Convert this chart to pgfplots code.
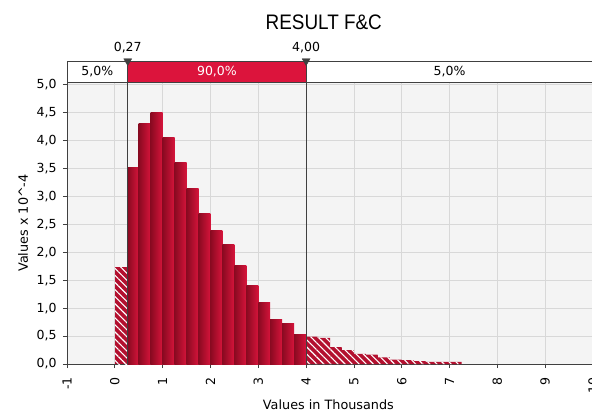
\documentclass[border=0pt]{standalone}
\usepackage{pgfplots}
\pgfplotsset{compat=1.18}
\usepackage{fontspec}
\setmainfont{DejaVu Sans}
\newfontfamily\titlefont{Liberation Sans}
\usetikzlibrary{patterns.meta}
\definecolor{bandred}{HTML}{DC143C}
\definecolor{barL}{HTML}{8A0A21}
\definecolor{barR}{HTML}{D6143B}
\definecolor{hatchred}{HTML}{B3102F}
\definecolor{bgc}{HTML}{F4F4F4}
\definecolor{gridc}{HTML}{D8D8D8}
\definecolor{axc}{HTML}{404040}
\pgfplotsset{body/.style={ybar interval, draw=none, left color=barL, right color=barR, forget plot}}
\begin{document}
\begin{tikzpicture}
\begin{axis}[
  scale only axis,
  width=526pt, height=282pt,
  xmin=-1, xmax=10, ymin=0, ymax=5.05,
  axis x line*=bottom, axis y line*=left,
  axis line style={axc, line width=0.8pt, -},
  axis background/.style={fill=bgc},
  xtick={-1,0,1,2,3,4,5,6,7,8,9,10},
  xticklabels={-1,0,1,2,3,4,5,6,7,8,9,10},
  ytick={0,0.5,1,1.5,2,2.5,3,3.5,4,4.5,5},
  xmajorgrids, ymajorgrids,
  grid style={gridc, line width=0.8pt},
  tick align=outside,
  major tick length=4pt,
  tick style={axc, line width=0.8pt},
  /pgf/number format/assume math mode=true,
  yticklabel style={font=\fontsize{12.5}{14}\selectfont, /pgf/number format/.cd, fixed, fixed zerofill, precision=1, use comma},
  xticklabel style={font=\fontsize{12.5}{14}\selectfont, rotate=90, anchor=east},
  xticklabel shift=6pt,
  yticklabel shift=3pt,
  clip=false,
  xlabel={Values in Thousands},
  ylabel={Values x 10\^{}-4},
  every axis x label/.style={at={(axis description cs:0.497,0)}, yshift=-41pt, anchor=center, font=\fontsize{12.8}{14}\selectfont},
  every axis y label/.style={at={(axis description cs:0,0.5)}, xshift=-44pt, rotate=90, anchor=center, font=\fontsize{12.8}{14}\selectfont},
]
% hatched left tail
\addplot[ybar interval, draw=none, fill=hatchred] coordinates {(0,1.73) (0.27,1.73)};
\addplot[ybar interval, draw=none, pattern={Lines[angle=-45,distance=5pt,line width=1.1pt]}, pattern color=white] coordinates {(0,1.73) (0.27,1.73)};
% main 90% body, one bar per plot so each bar carries its own gradient
\addplot[body] coordinates {(0.27,3.51) (0.5,3.51)};
\addplot[body] coordinates {(0.5,4.31) (0.75,4.31)};
\addplot[body] coordinates {(0.75,4.50) (1.0,4.50)};
\addplot[body] coordinates {(1.0,4.06) (1.25,4.06)};
\addplot[body] coordinates {(1.25,3.61) (1.5,3.61)};
\addplot[body] coordinates {(1.5,3.14) (1.75,3.14)};
\addplot[body] coordinates {(1.75,2.70) (2.0,2.70)};
\addplot[body] coordinates {(2.0,2.39) (2.25,2.39)};
\addplot[body] coordinates {(2.25,2.14) (2.5,2.14)};
\addplot[body] coordinates {(2.5,1.76) (2.75,1.76)};
\addplot[body] coordinates {(2.75,1.41) (3.0,1.41)};
\addplot[body] coordinates {(3.0,1.10) (3.25,1.10)};
\addplot[body] coordinates {(3.25,0.80) (3.5,0.80)};
\addplot[body] coordinates {(3.5,0.73) (3.75,0.73)};
\addplot[body] coordinates {(3.75,0.53) (4.0,0.53)};
% hatched right tail
\addplot[ybar interval, draw=none, fill=hatchred] coordinates {
(4.0,0.49) (4.25,0.47) (4.5,0.30) (4.75,0.25) (5.0,0.18) (5.25,0.17) (5.5,0.12) (5.75,0.08) (6.0,0.07) (6.25,0.05) (6.5,0.04) (6.75,0.04) (7.0,0.04) (7.25,0.04)};
\addplot[ybar interval, draw=none, pattern={Lines[angle=-45,distance=5pt,line width=1.1pt]}, pattern color=white] coordinates {
(4.0,0.49) (4.25,0.47) (4.5,0.30) (4.75,0.25) (5.0,0.18) (5.25,0.17) (5.5,0.12) (5.75,0.08) (6.0,0.07) (6.25,0.05) (6.5,0.04) (6.75,0.04) (7.0,0.04) (7.25,0.04)};
% band
\draw[fill=white, draw=axc, line width=0.8pt] (axis cs:-1,5.05) rectangle (axis cs:10,5.426);
\fill[bandred] (axis cs:0.27,5.05) rectangle (axis cs:4,5.426);
\draw[axc, line width=0.8pt] (axis cs:-1,5.05) rectangle (axis cs:10,5.426);
\node[font=\fontsize{12.5}{14}\selectfont] at (axis cs:-0.365,5.238) {5,0\%};
\node[font=\fontsize{12.5}{14}\selectfont, text=white] at (axis cs:2.135,5.238) {90,0\%};
\node[font=\fontsize{12.5}{14}\selectfont] at (axis cs:7,5.238) {5,0\%};
% percentile lines
\addplot[axc, line width=0.8pt, sharp plot] coordinates {(0.27,0) (0.27,5.426)};
\addplot[axc, line width=0.8pt, sharp plot] coordinates {(4,0) (4,5.426)};
\addplot[only marks, mark=triangle*, mark size=4.6pt, mark options={rotate=180, fill=axc, draw=axc}] coordinates {(0.27,5.426) (4,5.426)};
\node[font=\fontsize{12.5}{14}\selectfont] at (axis cs:0.27,5.66) {0,27};
\node[font=\fontsize{12.5}{14}\selectfont] at (axis cs:4,5.66) {4,00};
\node[font=\titlefont\fontsize{21}{24}\selectfont, xscale=0.9] at (axis cs:4.37,6.12) {RESULT F\&C};
\coordinate (BL) at (rel axis cs:0,0);
\coordinate (TR) at (rel axis cs:1,1);
\end{axis}
\pgfresetboundingbox
\path[use as bounding box] ([xshift=-67pt,yshift=-51pt]BL) rectangle ([xshift=-1pt,yshift=82pt]TR);
\end{tikzpicture}
\end{document}
